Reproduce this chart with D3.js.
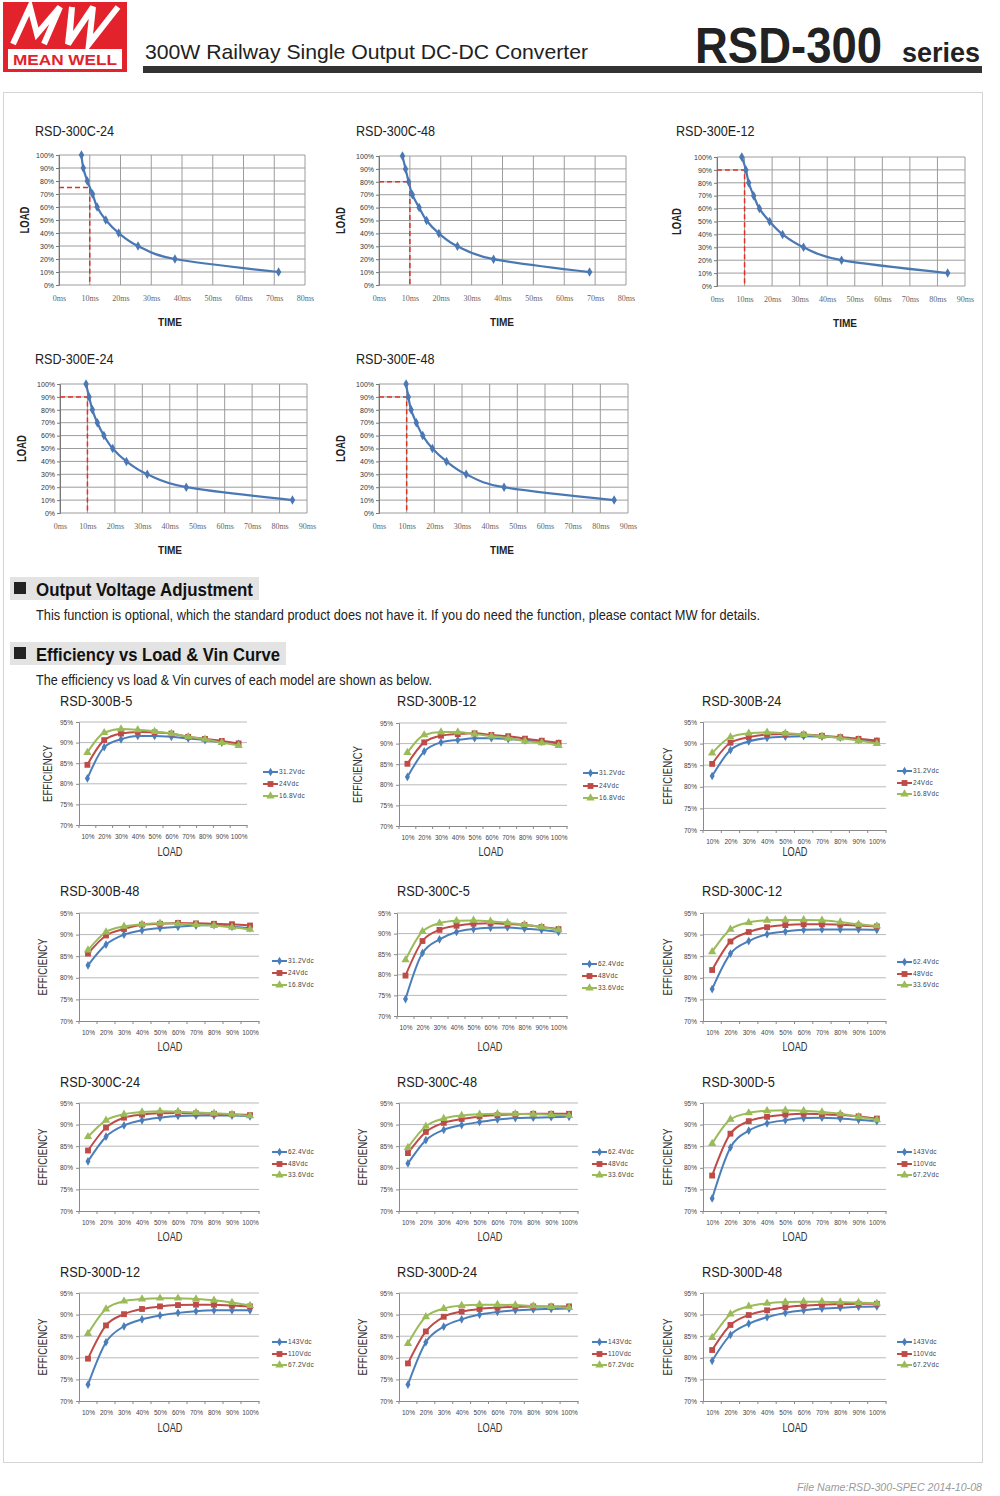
<!DOCTYPE html>
<html><head><meta charset="utf-8">
<script src="https://cdn.jsdelivr.net/npm/d3@7"></script>
<style>body{margin:0;background:#fff}svg{display:block}</style>
</head><body>
<svg id="page" width="1000" height="1496"></svg>
<script>
// ---------------- DATA ----------------
// Derating (load vs time) curves
const loadLevels = [100, 90, 80, 70, 60, 50, 40, 30, 20, 10];
const timeC24 = [7.3, 7.9, 9.2, 10.9, 12.4, 15.2, 19.4, 25.7, 37.7, 71.4];
const timeC48 = [7.6, 8.6, 9.6, 10.8, 13.0, 15.4, 19.4, 25.4, 37.1, 68.2];
const timeE12 = [9.0, 10.5, 11.5, 13.3, 15.4, 19.1, 23.8, 31.4, 45.2, 83.7];
const timeE24 = [9.5, 10.6, 11.8, 13.6, 16.0, 19.2, 24.2, 31.8, 46.0, 84.7];
const timeE48 = [9.8, 10.6, 11.6, 13.5, 15.8, 19.3, 24.4, 31.5, 45.2, 85.0];
const loadTicks = [0, 10, 20, 30, 40, 50, 60, 70, 80, 90, 100];

// Efficiency curves
const effLoads = ["10%", "20%", "30%", "40%", "50%", "60%", "70%", "80%", "90%", "100%"];
const effTicks = [70, 75, 80, 85, 90, 95];
const vinB = ["31.2Vdc", "24Vdc", "16.8Vdc"];
const vinC = ["62.4Vdc", "48Vdc", "33.6Vdc"];
const vinD = ["143Vdc", "110Vdc", "67.2Vdc"];

const effB5_hi  = [81.3, 88.9, 90.8, 91.6, 91.6, 91.4, 91.0, 90.6, 90.0, 89.7];
const effB5_mid = [84.6, 90.6, 92.2, 92.6, 92.5, 92.2, 91.4, 90.9, 90.4, 89.8];
const effB5_lo  = [87.6, 92.4, 93.3, 93.1, 92.7, 92.2, 91.4, 90.8, 90.0, 89.3];

const effB12_hi  = [81.9, 88.1, 90.3, 90.9, 91.3, 91.3, 91.1, 90.8, 90.5, 90.0];
const effB12_mid = [85.1, 90.3, 91.9, 92.3, 92.5, 92.1, 91.8, 91.2, 90.7, 90.2];
const effB12_lo  = [87.8, 92.1, 92.8, 92.8, 92.3, 91.8, 91.3, 90.6, 90.2, 89.5];

const effB24_hi  = [82.5, 88.5, 90.5, 91.3, 91.6, 91.7, 91.6, 91.4, 90.9, 90.5];
const effB24_mid = [85.3, 90.2, 91.5, 92.1, 92.2, 92.1, 91.8, 91.5, 91.1, 90.7];
const effB24_lo  = [87.8, 91.5, 92.4, 92.6, 92.4, 92.1, 91.7, 91.3, 90.7, 90.0];

const effB48_hi  = [82.9, 87.7, 90.0, 91.0, 91.5, 91.8, 92.1, 92.2, 91.8, 91.5];
const effB48_mid = [85.6, 89.8, 91.3, 92.3, 92.5, 92.7, 92.6, 92.5, 92.4, 92.1];
const effB48_lo  = [86.4, 90.6, 91.9, 92.4, 92.6, 92.5, 92.3, 92.1, 91.7, 91.2];

const effC5_hi  = [74.1, 85.3, 88.6, 90.4, 91.1, 91.4, 91.5, 91.2, 90.9, 90.4];
const effC5_mid = [79.8, 88.2, 90.9, 91.9, 92.4, 92.5, 92.3, 92.1, 91.6, 91.1];
const effC5_lo  = [83.6, 90.5, 92.5, 93.1, 93.2, 93.0, 92.6, 92.2, 91.6, 90.9];

const effC12_hi  = [77.4, 85.6, 88.5, 90.1, 90.7, 91.1, 91.2, 91.2, 91.2, 91.1];
const effC12_mid = [81.8, 88.4, 90.6, 91.7, 92.2, 92.4, 92.4, 92.3, 92.1, 91.9];
const effC12_lo  = [86.0, 91.2, 92.8, 93.3, 93.4, 93.4, 93.3, 92.9, 92.4, 92.0];

const effC24_hi  = [81.5, 87.2, 89.8, 91.0, 91.6, 92.0, 92.1, 92.1, 92.1, 91.9];
const effC24_mid = [84.0, 89.3, 91.6, 92.3, 92.6, 92.7, 92.6, 92.5, 92.4, 92.2];
const effC24_lo  = [87.2, 91.0, 92.4, 92.9, 93.1, 93.0, 92.8, 92.6, 92.4, 92.0];

const effC48_hi  = [81.0, 86.4, 88.8, 89.9, 90.6, 91.2, 91.5, 91.6, 91.7, 91.8];
const effC48_mid = [83.4, 88.3, 90.4, 91.3, 91.9, 92.2, 92.4, 92.5, 92.5, 92.5];
const effC48_lo  = [84.7, 89.6, 91.4, 92.1, 92.4, 92.5, 92.5, 92.4, 92.3, 92.1];

const effD5_hi  = [72.9, 84.7, 88.6, 90.3, 91.0, 91.5, 91.6, 91.4, 91.1, 90.8];
const effD5_mid = [78.2, 87.9, 90.8, 91.8, 92.3, 92.5, 92.4, 92.2, 91.9, 91.4];
const effD5_lo  = [85.6, 91.2, 92.7, 93.2, 93.3, 93.2, 92.9, 92.5, 91.8, 91.1];

const effD12_hi  = [73.8, 83.6, 87.3, 88.9, 89.8, 90.4, 90.8, 91.0, 91.0, 91.0];
const effD12_mid = [79.8, 87.5, 90.1, 91.3, 91.9, 92.2, 92.3, 92.3, 92.1, 91.9];
const effD12_lo  = [85.6, 91.3, 93.1, 93.6, 93.8, 93.8, 93.6, 93.3, 92.8, 92.1];

const effD24_hi  = [73.8, 83.6, 87.2, 88.9, 90.0, 90.6, 91.0, 91.2, 91.3, 91.4];
const effD24_mid = [78.7, 86.1, 89.5, 90.7, 91.3, 91.6, 91.8, 91.9, 91.9, 91.9];
const effD24_lo  = [83.3, 89.5, 91.4, 92.1, 92.3, 92.3, 92.2, 92.0, 91.8, 91.6];

const effD48_hi  = [79.3, 85.3, 87.9, 89.4, 90.4, 91.0, 91.4, 91.6, 91.8, 91.9];
const effD48_mid = [81.8, 87.6, 89.9, 91.0, 91.7, 92.1, 92.3, 92.4, 92.5, 92.5];
const effD48_lo  = [84.7, 90.1, 91.9, 92.6, 92.9, 93.0, 93.0, 92.9, 92.8, 92.6];

// ---------------- DRAWING ----------------
const SANS = "'Liberation Sans', Arial, Helvetica, sans-serif";
const NARROW = "'Liberation Sans Narrow', 'Liberation Sans', Arial, sans-serif";
const SERIF = "'Liberation Serif', 'Times New Roman', serif";
const svg = d3.select("#page");

function fit(sel, w) { return sel.attr("textLength", w).attr("lengthAdjust", "spacingAndGlyphs"); }
function squeeze(sel, f) {
  sel.each(function () {
    const l = this.getComputedTextLength();
    d3.select(this).attr("textLength", l * f).attr("lengthAdjust", "spacingAndGlyphs");
  });
  return sel;
}

// Page frame
svg.append("rect").attr("x", 3.5).attr("y", 92.5).attr("width", 979).attr("height", 1370)
  .attr("fill", "none").attr("stroke", "#d4d4d4");

// Logo
const logo = svg.append("g");
logo.append("rect").attr("x", 3).attr("y", 2).attr("width", 124).attr("height", 70).attr("fill", "#e3232b");
logo.append("path").attr("d", "M13,44 L30,7 L37,34 L60,7 L44,44 M69,44 L72,7 L68,44 L93,7 L89,44 L118,7")
  .attr("fill", "none").attr("stroke", "#fff").attr("stroke-width", 6).attr("stroke-linejoin", "miter");
logo.append("rect").attr("x", 8).attr("y", 49).attr("width", 114).attr("height", 20).attr("fill", "#fff");
fit(logo.append("text").attr("x", 13).attr("y", 65).text("MEAN WELL")
  .attr("font-family", SANS).attr("font-weight", "bold").attr("font-size", 15).attr("fill", "#e3232b"), 104);

// Header
fit(svg.append("text").attr("x", 145).attr("y", 59).text("300W Railway Single Output DC-DC Converter")
  .attr("font-family", NARROW).attr("font-size", 21).attr("fill", "#222"), 443);
fit(svg.append("text").attr("x", 695).attr("y", 63).text("RSD-300")
  .attr("font-family", SANS).attr("font-weight", "bold").attr("font-size", 50).attr("fill", "#222"), 187);
fit(svg.append("text").attr("x", 902).attr("y", 62).text("series")
  .attr("font-family", SANS).attr("font-weight", "bold").attr("font-size", 27).attr("fill", "#222"), 78);
svg.append("rect").attr("x", 143).attr("y", 66).attr("width", 839).attr("height", 7).attr("fill", "#333");

// ---------- Load vs time charts ----------
const loadCharts = [
  { title: "RSD-300C-24", t: timeC24, xMax: 80, ref: 75, x0: 59, x1: 305, y0: 155, y1: 285, tx: 35, ty: 136, lx: 25, timeX: 170 },
  { title: "RSD-300C-48", t: timeC48, xMax: 80, ref: 80, x0: 379, x1: 626, y0: 156, y1: 285, tx: 356, ty: 136, lx: 341, timeX: 502 },
  { title: "RSD-300E-12", t: timeE12, xMax: 90, ref: 90, x0: 717, x1: 965, y0: 157, y1: 286, tx: 676, ty: 136, lx: 677, timeX: 845 },
  { title: "RSD-300E-24", t: timeE24, xMax: 90, ref: 90, x0: 60, x1: 307, y0: 384, y1: 513, tx: 35, ty: 364, lx: 22, timeX: 170 },
  { title: "RSD-300E-48", t: timeE48, xMax: 90, ref: 90, x0: 379, x1: 628, y0: 384, y1: 513, tx: 356, ty: 364, lx: 341, timeX: 502 }
];

function drawLoadChart(c) {
  const g = svg.append("g");
  const x = d3.scaleLinear().domain([0, c.xMax]).range([c.x0, c.x1]);
  const y = d3.scaleLinear().domain([0, 100]).range([c.y1, c.y0]);
  const xt = d3.range(0, c.xMax + 1, 10);

  g.append("g").selectAll("line").data(xt).join("line")
    .attr("x1", d => x(d)).attr("x2", d => x(d)).attr("y1", c.y0).attr("y2", c.y1)
    .attr("stroke", "#9c9c9c").attr("stroke-width", 1);
  g.append("g").selectAll("line").data(loadTicks).join("line")
    .attr("x1", c.x0).attr("x2", c.x1).attr("y1", d => y(d)).attr("y2", d => y(d))
    .attr("stroke", "#9c9c9c").attr("stroke-width", 1);

  const ya = g.append("g").attr("transform", `translate(${c.x0},0)`)
    .call(d3.axisLeft(y).tickValues(loadTicks).tickSize(3).tickPadding(2).tickFormat(d => d + "%"));
  ya.select(".domain").attr("stroke", "#777");
  ya.selectAll(".tick line").attr("stroke", "#777");
  ya.selectAll("text").attr("font-family", SANS).attr("font-size", 7).attr("fill", "#333");

  const xa = g.append("g").attr("transform", `translate(0,${c.y1})`)
    .call(d3.axisBottom(x).tickValues(xt).tickSize(0).tickPadding(10).tickFormat(d => d + "ms"));
  xa.select(".domain").remove();
  xa.selectAll("text").attr("font-family", SERIF).attr("font-size", 8).attr("fill", "#666");

  // red reference lines
  g.append("path")
    .attr("d", `M${x(0)},${y(c.ref)}H${x(10)}V${y(0)}`)
    .attr("fill", "none").attr("stroke", "#e2301f").attr("stroke-width", 1.5).attr("stroke-dasharray", "5,3");

  const pts = c.t.map((t, i) => [t, loadLevels[i]]);
  g.append("path").datum(pts)
    .attr("d", d3.line().x(d => x(d[0])).y(d => y(d[1])).curve(d3.curveMonotoneY))
    .attr("fill", "none").attr("stroke", "#4a78b4").attr("stroke-width", 2.2);
  g.append("g").selectAll("path").data(pts).join("path")
    .attr("transform", d => `translate(${x(d[0])},${y(d[1])})`)
    .attr("d", d3.symbol(d3.symbolDiamond, 26))
    .attr("fill", "#4a78b4");

  squeeze(g.append("text").attr("x", c.tx).attr("y", c.ty).text(c.title)
    .attr("font-family", SANS).attr("font-size", 14).attr("fill", "#222"), 0.9);
  const cy = (c.y0 + c.y1) / 2;
  fit(g.append("text").attr("transform", `translate(${c.lx + 4},${cy}) rotate(-90)`).attr("text-anchor", "middle")
    .text("LOAD").attr("font-family", SANS).attr("font-weight", "bold").attr("font-size", 12).attr("fill", "#222"), 27);
  fit(g.append("text").attr("x", c.timeX - 12).attr("y", c.y1 + 41)
    .text("TIME").attr("font-family", SANS).attr("font-weight", "bold").attr("font-size", 11.5).attr("fill", "#222"), 24);
}
loadCharts.forEach(drawLoadChart);

// ---------- Section headings ----------
function heading(y, w, label) {
  svg.append("rect").attr("x", 10).attr("y", y).attr("width", w).attr("height", 23).attr("fill", "#e3e3e3");
  svg.append("rect").attr("x", 14).attr("y", y + 5).attr("width", 12).attr("height", 12).attr("fill", "#222");
  fit(svg.append("text").attr("x", 36).attr("y", y + 19).text(label)
    .attr("font-family", NARROW).attr("font-weight", "bold").attr("font-size", 19).attr("fill", "#111"), w - 32);
}
heading(577, 249, "Output Voltage Adjustment");
fit(svg.append("text").attr("x", 36).attr("y", 620)
  .text("This function is optional, which the standard product does not have it. If you do need the function, please contact MW for details.")
  .attr("font-family", NARROW).attr("font-size", 14).attr("fill", "#222"), 724);
heading(642, 276, "Efficiency vs Load & Vin Curve");
fit(svg.append("text").attr("x", 36).attr("y", 685)
  .text("The efficiency vs load & Vin curves of each model are shown as below.")
  .attr("font-family", NARROW).attr("font-size", 14).attr("fill", "#222"), 396);

// ---------- Efficiency charts ----------
const seriesColors = ["#4a7ebb", "#be4b48", "#9bbb59"];
const seriesSymbols = [d3.symbolDiamond, d3.symbolSquare, d3.symbolTriangle];
const symbolSizes = [22, 34, 30];

const effCharts = [
  { title: "RSD-300B-5", vin: vinB, s: [effB5_hi, effB5_mid, effB5_lo], x0: 79, x1: 247, y0: 722, y1: 825, tx: 60, ty: 706, ex: 47, lx: 170, ly: 856, legX: 263, legY: [772, 784, 796] },
  { title: "RSD-300B-12", vin: vinB, s: [effB12_hi, effB12_mid, effB12_lo], x0: 399, x1: 567, y0: 723, y1: 826, tx: 397, ty: 706, ex: 357, lx: 491, ly: 856, legX: 583, legY: [773, 786, 798] },
  { title: "RSD-300B-24", vin: vinB, s: [effB24_hi, effB24_mid, effB24_lo], x0: 703, x1: 886, y0: 722, y1: 830, tx: 702, ty: 706, ex: 667, lx: 795, ly: 856, legX: 897, legY: [771, 783, 794] },
  { title: "RSD-300B-48", vin: vinB, s: [effB48_hi, effB48_mid, effB48_lo], x0: 79, x1: 259, y0: 913, y1: 1021, tx: 60, ty: 896, ex: 42, lx: 170, ly: 1051, legX: 272, legY: [961, 973, 985] },
  { title: "RSD-300C-5", vin: vinC, s: [effC5_hi, effC5_mid, effC5_lo], x0: 397, x1: 567, y0: 913, y1: 1016, tx: 397, ty: 896, ex: null, lx: 490, ly: 1051, legX: 582, legY: [964, 976, 988] },
  { title: "RSD-300C-12", vin: vinC, s: [effC12_hi, effC12_mid, effC12_lo], x0: 703, x1: 886, y0: 913, y1: 1021, tx: 702, ty: 896, ex: 667, lx: 795, ly: 1051, legX: 897, legY: [962, 974, 985] },
  { title: "RSD-300C-24", vin: vinC, s: [effC24_hi, effC24_mid, effC24_lo], x0: 79, x1: 259, y0: 1103, y1: 1211, tx: 60, ty: 1087, ex: 42, lx: 170, ly: 1241, legX: 272, legY: [1152, 1164, 1175] },
  { title: "RSD-300C-48", vin: vinC, s: [effC48_hi, effC48_mid, effC48_lo], x0: 399, x1: 578, y0: 1103, y1: 1211, tx: 397, ty: 1087, ex: 362, lx: 490, ly: 1241, legX: 592, legY: [1152, 1164, 1175] },
  { title: "RSD-300D-5", vin: vinD, s: [effD5_hi, effD5_mid, effD5_lo], x0: 703, x1: 886, y0: 1103, y1: 1211, tx: 702, ty: 1087, ex: 667, lx: 795, ly: 1241, legX: 897, legY: [1152, 1164, 1175] },
  { title: "RSD-300D-12", vin: vinD, s: [effD12_hi, effD12_mid, effD12_lo], x0: 79, x1: 259, y0: 1293, y1: 1401, tx: 60, ty: 1277, ex: 42, lx: 170, ly: 1432, legX: 272, legY: [1342, 1354, 1365] },
  { title: "RSD-300D-24", vin: vinD, s: [effD24_hi, effD24_mid, effD24_lo], x0: 399, x1: 578, y0: 1293, y1: 1401, tx: 397, ty: 1277, ex: 362, lx: 490, ly: 1432, legX: 592, legY: [1342, 1354, 1365] },
  { title: "RSD-300D-48", vin: vinD, s: [effD48_hi, effD48_mid, effD48_lo], x0: 703, x1: 886, y0: 1293, y1: 1401, tx: 702, ty: 1277, ex: 667, lx: 795, ly: 1432, legX: 897, legY: [1342, 1354, 1365] }
];

function drawEffChart(c) {
  const g = svg.append("g");
  const x = d3.scalePoint().domain(effLoads).range([c.x0, c.x1]).padding(0.5);
  const band = d3.scaleBand().domain(effLoads).range([c.x0, c.x1]);
  const y = d3.scaleLinear().domain([70, 95]).range([c.y1, c.y0]);

  g.append("g").selectAll("line").data(effTicks.filter(d => d > 70)).join("line")
    .attr("x1", c.x0).attr("x2", c.x1).attr("y1", d => y(d)).attr("y2", d => y(d))
    .attr("stroke", "#b9b9b9").attr("stroke-width", 1);

  const ya = g.append("g").attr("transform", `translate(${c.x0},0)`)
    .call(d3.axisLeft(y).tickValues(effTicks).tickSize(3).tickPadding(3).tickFormat(d => d + "%"));
  ya.select(".domain").attr("stroke", "#8a8a8a");
  ya.selectAll(".tick line").attr("stroke", "#8a8a8a");
  ya.selectAll("text").attr("font-family", SANS).attr("font-size", 6.5).attr("fill", "#444");

  const xa = g.append("g").attr("transform", `translate(0,${c.y1})`)
    .call(d3.axisBottom(x).tickSize(0).tickPadding(9));
  xa.select(".domain").attr("stroke", "#8a8a8a");
  xa.selectAll("text").attr("font-family", SANS).attr("font-size", 6.5).attr("fill", "#444");
  const bounds = effLoads.map(d => band(d)).concat([c.x1]);
  g.append("g").selectAll("line").data(bounds).join("line")
    .attr("x1", d => d).attr("x2", d => d).attr("y1", c.y1).attr("y2", c.y1 + 3)
    .attr("stroke", "#8a8a8a");

  c.s.forEach((vals, i) => {
    const pts = vals.map((v, j) => [effLoads[j], v]);
    g.append("path").datum(pts)
      .attr("d", d3.line().x(d => x(d[0])).y(d => y(d[1])).curve(d3.curveMonotoneX))
      .attr("fill", "none").attr("stroke", seriesColors[i]).attr("stroke-width", 2);
    g.append("g").selectAll("path").data(pts).join("path")
      .attr("transform", d => `translate(${x(d[0])},${y(d[1])})`)
      .attr("d", d3.symbol(seriesSymbols[i], symbolSizes[i]))
      .attr("fill", seriesColors[i]);
  });

  // legend
  c.vin.forEach((name, i) => {
    const ly = c.legY[i];
    g.append("line").attr("x1", c.legX).attr("x2", c.legX + 15).attr("y1", ly).attr("y2", ly)
      .attr("stroke", seriesColors[i]).attr("stroke-width", 2);
    g.append("path").attr("transform", `translate(${c.legX + 7.5},${ly})`)
      .attr("d", d3.symbol(seriesSymbols[i], symbolSizes[i])).attr("fill", seriesColors[i]);
    g.append("text").attr("x", c.legX + 16).attr("y", ly + 2.3).text(name)
      .attr("font-family", SANS).attr("font-size", 6.5).attr("fill", "#444").attr("letter-spacing", 0.3);
  });

  squeeze(g.append("text").attr("x", c.tx).attr("y", c.ty).text(c.title)
    .attr("font-family", SANS).attr("font-size", 14).attr("fill", "#222"), 0.91);
  if (c.ex !== null) {
    const cy = (c.y0 + c.y1) / 2;
    fit(g.append("text").attr("transform", `translate(${c.ex + 4.5},${cy}) rotate(-90)`).attr("text-anchor", "middle")
      .text("EFFICIENCY").attr("font-family", SANS).attr("font-size", 13).attr("fill", "#333"), 57);
  }
  fit(g.append("text").attr("x", c.lx - 12.5).attr("y", c.ly).text("LOAD")
    .attr("font-family", SANS).attr("font-size", 12).attr("fill", "#333"), 25);
}
effCharts.forEach(drawEffChart);

// Footer
fit(svg.append("text").attr("x", 797).attr("y", 1491).text("File Name:RSD-300-SPEC   2014-10-08")
  .attr("font-family", SANS).attr("font-style", "italic").attr("font-size", 11).attr("fill", "#9a9a9a"), 185);
</script>
</body></html>
